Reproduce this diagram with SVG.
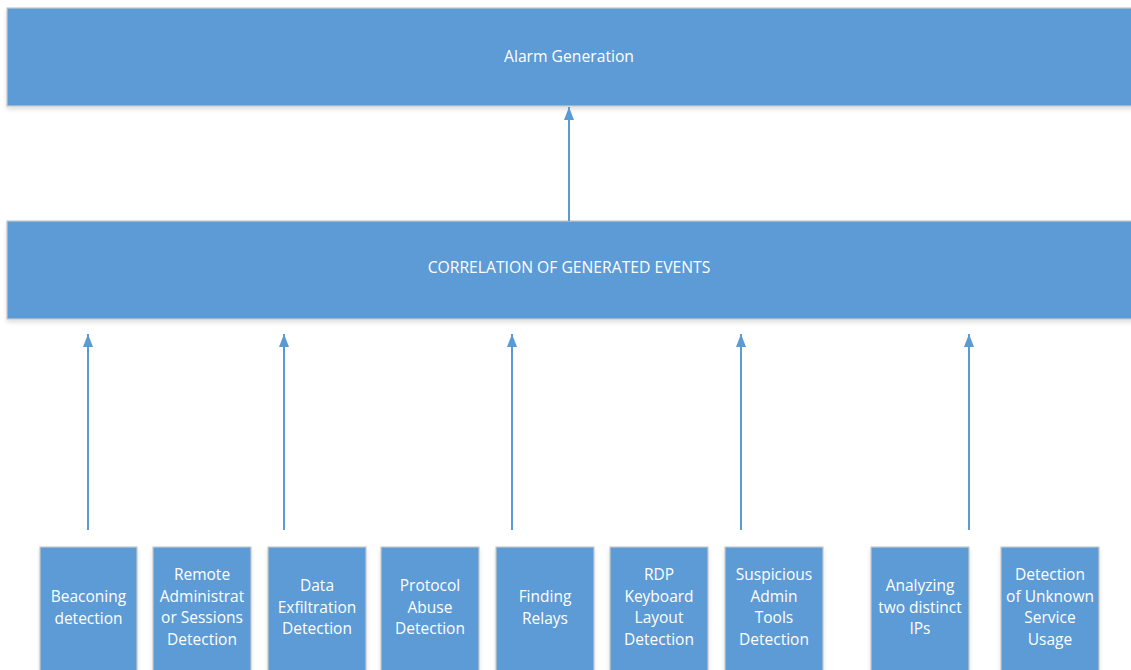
<svg xmlns="http://www.w3.org/2000/svg" width="1131" height="670" viewBox="0 0 1131 670">
  <defs>
    <marker id="head" viewBox="0 0 13 10" refX="13" refY="5" markerWidth="13" markerHeight="10" markerUnits="userSpaceOnUse" orient="auto">
      <path d="M0,0 L13,5 L0,10 Z" fill="#5B9BD5"/>
    </marker>
    <filter id="shadow" x="-5%" y="-5%" width="110%" height="130%">
      <feGaussianBlur in="SourceAlpha" stdDeviation="2"/>
      <feOffset dy="3"/>
      <feComponentTransfer><feFuncA type="linear" slope="0.12"/></feComponentTransfer>
      <feMerge><feMergeNode/><feMergeNode in="SourceGraphic"/></feMerge>
    </filter>
    <style>
      .box { fill: #5B9BD5; stroke: #C8C8C8; stroke-width: 1.2; filter: url(#shadow); }
      .lbl { fill: #FFFFFF; font-family: "Open Sans", "Noto Sans", sans-serif; font-size: 15.5px; text-anchor: middle; }
      .hdr { fill: #FFFFFF; font-family: "Open Sans", "Noto Sans", sans-serif; font-size: 15.7px; text-anchor: middle; }
      .conn { stroke: #5B9BD5; stroke-width: 2; fill: none; marker-end: url(#head); }
    </style>
  </defs>
  <rect width="1131" height="670" fill="#FFFFFF"/>

  <g id="alarm-generation">
    <rect class="box" x="7" y="8" width="1130" height="98"/>
    <text class="hdr" x="569" y="62">Alarm Generation</text>
  </g>

  <g id="correlation">
    <rect class="box" x="7" y="221" width="1130" height="98"/>
    <text class="hdr" x="569" y="273">CORRELATION OF GENERATED EVENTS</text>
  </g>

  <g id="connectors">
    <line class="conn" x1="569" y1="221" x2="569" y2="107"/>
    <line class="conn" x1="88" y1="530" x2="88" y2="334"/>
    <line class="conn" x1="284" y1="530" x2="284" y2="334"/>
    <line class="conn" x1="512" y1="530" x2="512" y2="334"/>
    <line class="conn" x1="741" y1="530" x2="741" y2="334"/>
    <line class="conn" x1="969" y1="530" x2="969" y2="334"/>
  </g>

  <g id="beaconing">
    <rect class="box" x="40" y="547" width="97" height="130"/>
    <text class="lbl"><tspan x="88.5" y="602">Beaconing</tspan><tspan x="88.5" y="623.5">detection</tspan></text>
  </g>
  <g id="remote-admin">
    <rect class="box" x="153" y="547" width="98" height="130"/>
    <text class="lbl"><tspan x="202" y="580">Remote</tspan><tspan x="202" y="601.5">Administrat</tspan><tspan x="202" y="623">or Sessions</tspan><tspan x="202" y="644.5">Detection</tspan></text>
  </g>
  <g id="data-exfiltration">
    <rect class="box" x="268" y="547" width="98" height="130"/>
    <text class="lbl"><tspan x="317" y="591">Data</tspan><tspan x="317" y="612.5">Exfiltration</tspan><tspan x="317" y="634">Detection</tspan></text>
  </g>
  <g id="protocol-abuse">
    <rect class="box" x="381" y="547" width="98" height="130"/>
    <text class="lbl"><tspan x="430" y="591">Protocol</tspan><tspan x="430" y="612.5">Abuse</tspan><tspan x="430" y="634">Detection</tspan></text>
  </g>
  <g id="finding-relays">
    <rect class="box" x="496" y="547" width="98" height="130"/>
    <text class="lbl"><tspan x="545" y="602">Finding</tspan><tspan x="545" y="623.5">Relays</tspan></text>
  </g>
  <g id="rdp-keyboard">
    <rect class="box" x="610" y="547" width="98" height="130"/>
    <text class="lbl"><tspan x="659" y="580">RDP</tspan><tspan x="659" y="601.5">Keyboard</tspan><tspan x="659" y="623">Layout</tspan><tspan x="659" y="644.5">Detection</tspan></text>
  </g>
  <g id="suspicious-admin">
    <rect class="box" x="725" y="547" width="98" height="130"/>
    <text class="lbl"><tspan x="774" y="580">Suspicious</tspan><tspan x="774" y="601.5">Admin</tspan><tspan x="774" y="623">Tools</tspan><tspan x="774" y="644.5">Detection</tspan></text>
  </g>
  <g id="two-ips">
    <rect class="box" x="871" y="547" width="98" height="130"/>
    <text class="lbl"><tspan x="920" y="591">Analyzing</tspan><tspan x="920" y="612.5">two distinct</tspan><tspan x="920" y="634">IPs</tspan></text>
  </g>
  <g id="unknown-service">
    <rect class="box" x="1001" y="547" width="98" height="130"/>
    <text class="lbl"><tspan x="1050" y="580">Detection</tspan><tspan x="1050" y="601.5">of Unknown</tspan><tspan x="1050" y="623">Service</tspan><tspan x="1050" y="644.5">Usage</tspan></text>
  </g>
</svg>
